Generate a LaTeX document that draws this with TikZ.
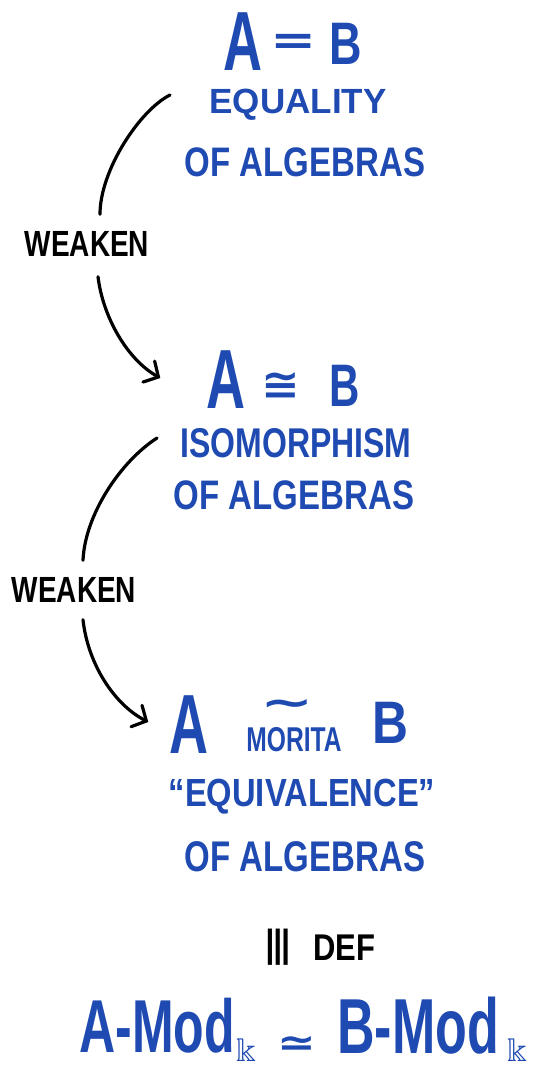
\documentclass[tikz,border=0pt]{standalone}
\usepackage{amssymb}
\usepackage{fontspec}
\setmainfont{Liberation Sans}
\newfontfamily\symfont{DejaVu Sans}
\usetikzlibrary{arrows.meta}
\definecolor{ink}{RGB}{30,74,178}
\newcommand{\fsz}[1]{\fontsize{#1}{#1}\selectfont}
\newcommand{\tsym}[4]{\scalebox{#2}[#3]{\fsz{#1}\symfont\bfseries #4}}
\begin{document}
\begin{tikzpicture}[x=1pt,y=-1pt,
  bluetext/.style={text=ink, inner sep=0pt, font=\bfseries},
  blacktext/.style={text=black, inner sep=0pt, font=\bfseries},
  conn/.style={draw=black, line width=3.2pt, line cap=round},
  tipped/.style={-{Straight Barb[length=11pt,width=24pt,line cap=round]}}
]
\useasboundingbox (0,0) rectangle (543,1070);

% ---- first block
\node[bluetext] (a1) at (243,42) {\scalebox{0.9}[1.4]{\fsz{60}A}};
\node[bluetext] (eq1) at (294,44) {\tsym{38}{1.45}{1.1}{=}};
\node[bluetext] (b1) at (346,44) {\scalebox{0.75}[1]{\fsz{60}B}};
\node[bluetext] (t1a) at (298,105) {\fsz{35}EQUALITY};
\node[bluetext] (t1b) at (305,162) {\scalebox{1}[1.25]{\fsz{33}OF ALGEBRAS}};

% ---- second block
\node[bluetext] (a2) at (226,380) {\scalebox{0.9}[1.4]{\fsz{60}A}};
\node[bluetext] (cong2) at (281,386) {\tsym{33}{1.4}{1.3}{≅}};
\node[bluetext] (b2) at (345,386) {\scalebox{0.7}[1]{\fsz{60}B}};
\node[bluetext] (t2a) at (296,443) {\scalebox{1}[1.3]{\fsz{32}ISOMORPHISM}};
\node[bluetext] (t2b) at (294,495) {\scalebox{1}[1.25]{\fsz{33}OF ALGEBRAS}};

% ---- third block
\node[bluetext] (a3) at (189,725) {\scalebox{0.9}[1.4]{\fsz{60}A}};
\node[bluetext] (tl3) at (287,708) {\tsym{51}{1.25}{0.8}{∼}};
\node[bluetext] (mor) at (294,740) {\scalebox{1}[1.4]{\fsz{24.6}MORITA}};
\node[bluetext] (b3) at (390,723) {\scalebox{0.83}[1]{\fsz{60}B}};
\node[bluetext] (t3a) at (302,797) {\scalebox{1}[1.2]{\fsz{32.7}“EQUIVALENCE”}};
\node[bluetext] (t3b) at (305,857) {\scalebox{1}[1.3]{\fsz{33}OF ALGEBRAS}};

% ---- definition
\node[blacktext] (eqv) at (279,947) {\rotatebox{90}{\tsym{40}{1.45}{0.9}{≡}}};
\node[blacktext] (def) at (344,948) {\scalebox{1}[1.2]{\fsz{31}DEF}};

% ---- bottom
\node[bluetext] (amod) at (157,1026) {\scalebox{1}[1.5]{\fsz{50}A-Mod}};
\node[bluetext] (k1) at (246,1050) {\scalebox{3.6}[3.3]{$\Bbbk$}};
\node[bluetext] (sim) at (297,1046) {\tsym{37}{1.25}{1}{≃}};
\node[bluetext] (bmod) at (418,1026) {\scalebox{1}[1.5]{\fsz{52}B-Mod}};
\node[bluetext] (k2) at (517,1050) {\scalebox{3.6}[3.3]{$\Bbbk$}};

% ---- connectors
\node[blacktext] (w1) at (87,244) {\scalebox{1}[1.3]{\fsz{28}WEAKEN}};
\coordinate (s1) at (170,95);
\draw[conn] (s1) .. controls (140,110) and (100,170) .. ([xshift=13pt,yshift=17pt]w1.north);
\draw[conn,tipped] ([xshift=11pt,yshift=-20pt]w1.south) .. controls (103,318) and (128,360) .. ([xshift=-46pt,yshift=2pt]a2.west);

\node[blacktext] (w2) at (74,590) {\scalebox{1}[1.3]{\fsz{28}WEAKEN}};
\coordinate (s2) at (157,438);
\draw[conn] (s2) .. controls (120,462) and (85,515) .. ([xshift=9pt,yshift=17pt]w2.north);
\draw[conn,tipped] ([xshift=9pt,yshift=-17pt]w2.south) .. controls (88,665) and (115,705) .. ([xshift=-21pt,yshift=3pt]a3.west);
\end{tikzpicture}
\end{document}
